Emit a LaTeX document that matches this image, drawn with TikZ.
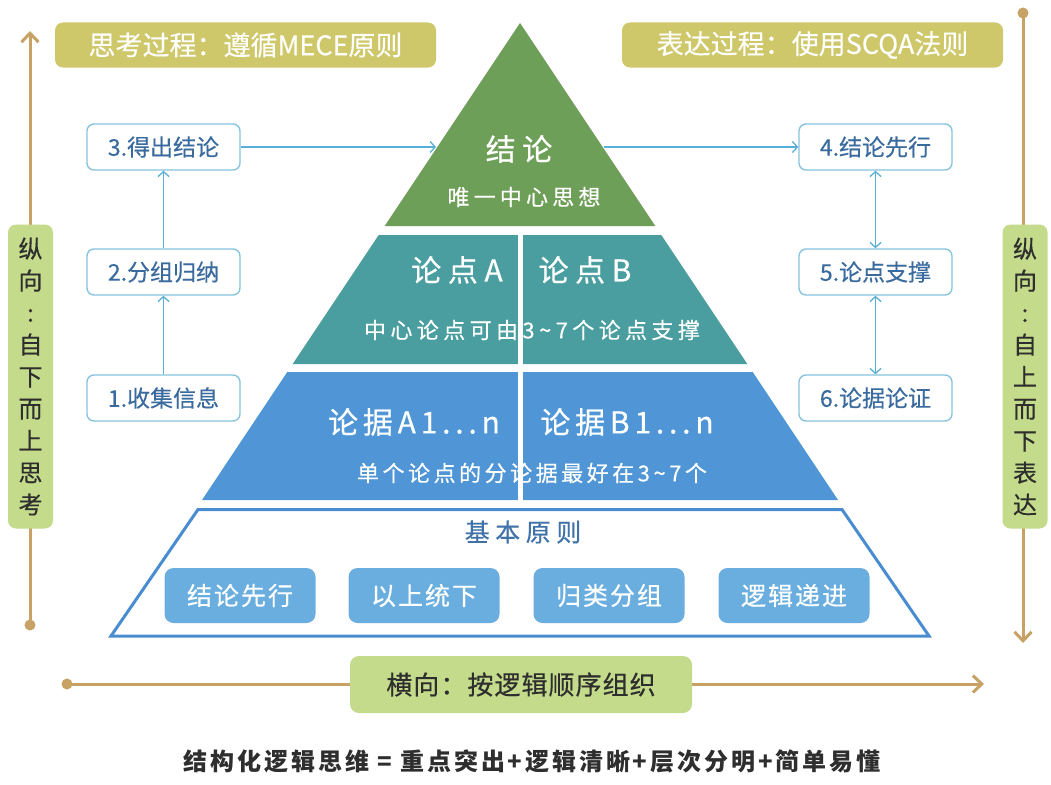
\documentclass[tikz,border=0pt]{standalone}
\usepackage{fontspec}
\setmainfont{Noto Sans CJK SC}
\usetikzlibrary{arrows.meta}
\definecolor{pgreen}{HTML}{6E9F58}
\definecolor{pteal}{HTML}{4A9EA0}
\definecolor{pblue}{HTML}{5096D6}
\definecolor{pbase}{HTML}{4A8CD0}
\definecolor{princ}{HTML}{6AAEE0}
\definecolor{olive}{HTML}{CEC86A}
\definecolor{sidegreen}{HTML}{C3DB8A}
\definecolor{tanc}{HTML}{C8A264}
\definecolor{flowborder}{HTML}{88C4DE}
\definecolor{flowarr}{HTML}{5AAFD6}
\definecolor{flowtext}{HTML}{3A6B9E}
\definecolor{basetext}{HTML}{3F72A8}
\definecolor{darktext}{HTML}{2E2E2E}
\newcommand\pxfont[2]{\fontsize{#1}{#2}\selectfont}
\newcommand\lsp[1]{\addfontfeature{LetterSpace=#1}}
\newcommand\fkb[1]{\addfontfeature{FakeBold=#1}}
\begin{document}
\begin{tikzpicture}[x=1pt,y=-1pt,
  flowbox/.style={draw=flowborder, line width=1.4pt, fill=white, rounded corners=7pt,
    minimum width=153pt, minimum height=46pt, inner sep=0pt, text=flowtext, font=\pxfont{23}{23}\fkb{0.3}},
  flowarrow/.style={draw=flowarr, line width=1.3pt, -{Straight Barb[length=5pt,width=11pt]}},
  flowdouble/.style={draw=flowarr, line width=1.3pt, {Straight Barb[length=5pt,width=11pt]}-{Straight Barb[length=5pt,width=11pt]}},
  headbox/.style={fill=olive, rounded corners=8pt, minimum width=381pt, minimum height=45pt,
    inner sep=0pt, text=white, font=\pxfont{27}{27}\fkb{0.3}},
  sidebox/.style={fill=sidegreen, rounded corners=8pt, minimum width=45pt, minimum height=304pt,
    inner sep=0pt, text=darktext, font=\pxfont{24}{32}\fkb{0.4}, align=center},
  principle/.style={fill=princ, rounded corners=9pt, minimum width=151pt, minimum height=55pt,
    inner sep=0pt, text=white, font=\pxfont{25}{25}\lsp{8}\fkb{0.4}},
  tanline/.style={draw=tanc, line width=3pt},
  tanarrow/.style={tanline, -{Straight Barb[length=9pt,width=17pt]}},
  pyrtext/.style={text=white, inner sep=0pt},
]
\useasboundingbox (0,0) rectangle (1051,784);
\fill[white] (0,0) rectangle (1051,784);

% ---------- axis lines ----------
\coordinate (ldot) at (30,625);
\coordinate (ltop) at (30,31);
\coordinate (rdot) at (1023,13);
\coordinate (rbot) at (1023,643);
\coordinate (hdot) at (67,684);
\coordinate (hend) at (984,684);
\draw[tanarrow] (ldot) -- (ltop);
\draw[tanarrow] (rdot) -- (rbot);
\draw[tanarrow] (hdot) -- (hend);
\fill[tanc] (ldot) circle (5.5pt);
\fill[tanc] (rdot) circle (5.5pt);
\fill[tanc] (hdot) circle (5.5pt);

% ---------- pyramid ----------
\fill[pgreen] (520,23) -- (655.3,226) -- (384.7,226) -- cycle;
\fill[pteal] (378.7,235) -- (661.3,235) -- (747.3,364) -- (292.7,364) -- cycle;
\fill[pblue] (287.3,372) -- (752.7,372) -- (838,500) -- (202,500) -- cycle;
\draw[pbase, line width=3pt, line join=miter] (198,509.5) -- (842,509.5) -- (929,636) -- (111,636) -- cycle;

\node[pyrtext, font=\pxfont{30}{30}\lsp{22}\fkb{0.5}] (concl) at (519,149) {结论};
\node[pyrtext, font=\pxfont{22}{22}\lsp{19}\fkb{0.4}] (central) at (524,197) {唯一中心思想};
\node[pyrtext, font=\pxfont{30}{30}\lsp{22}\fkb{0.5}] (ptA) at (457,270) {论点A};
\node[pyrtext, font=\pxfont{30}{30}\lsp{22}\fkb{0.5}] (ptB) at (585,270) {论点B};
\node[pyrtext, font=\pxfont{22}{22}\lsp{20}\fkb{0.4}] (ptnote) at (532,330) {中心论点可由3\textasciitilde7个论点支撑};
\node[pyrtext, font=\pxfont{30}{30}\lsp{16}\fkb{0.5}] (evA) at (414,422) {论据A1...n};
\node[pyrtext, font=\pxfont{30}{30}\lsp{16}\fkb{0.5}] (evB) at (627,422) {论据B1...n};
\node[pyrtext, font=\pxfont{22}{22}\lsp{16}\fkb{0.4}] (evnote) at (532,473) {单个论点的分论据最好在3\textasciitilde7个};
\draw[white, line width=5pt] (520,233) -- (520,502);

\node[text=basetext, inner sep=0pt, font=\pxfont{25}{25}\lsp{22}\fkb{0.4}] (basic) at (523,532) {基本原则};
\node[principle] (p1) at (240,595.5) {结论先行};
\node[principle] (p2) at (424,595.5) {以上统下};
\node[principle] (p3) at (609,595.5) {归类分组};
\node[principle] (p4) at (794,595.5) {逻辑递进};

% ---------- headers ----------
\node[headbox] (head1) at (245.5,45) {思考过程：遵循MECE原则};
\node[headbox] (head2) at (812.5,45) {表达过程：使用SCQA法则};

% ---------- flow boxes ----------
\node[flowbox] (f3) at (163.5,147) {3.得出结论};
\node[flowbox] (f2) at (163.5,272) {2.分组归纳};
\node[flowbox] (f1) at (163.5,398) {1.收集信息};
\node[flowbox] (f4) at (875.5,147) {4.结论先行};
\node[flowbox] (f5) at (875.5,272) {5.论点支撑};
\node[flowbox] (f6) at (875.5,398) {6.论据论证};
\coordinate (pl) at (436,147);
\coordinate (pr) at (604,147);
\draw[flowarrow] (f1) -- (f2);
\draw[flowarrow] (f2) -- (f3);
\draw[flowarrow] (f3) -- (pl);
\draw[flowarrow] (pr) -- (f4);
\draw[flowdouble] (f4) -- (f5);
\draw[flowdouble] (f5) -- (f6);

% ---------- side boxes ----------
\node[sidebox] (side1) at (30.5,376.5) {纵\\向\\:\\自\\下\\而\\上\\思\\考};
\node[sidebox] (side2) at (1025,376.5) {纵\\向\\:\\自\\上\\而\\下\\表\\达};
\node[fill=sidegreen, rounded corners=9pt, minimum width=342pt, minimum height=57pt, inner sep=0pt,
  text=darktext, font=\pxfont{26}{26}\lsp{4}\fkb{0.4}] (hbox) at (521,684.5) {横向：按逻辑顺序组织};

% ---------- bottom formula ----------
\node[text=darktext, inner sep=0pt, font=\pxfont{24}{24}\bfseries\lsp{12}] (formula) at (532,761)
  {结构化逻辑思维 = 重点突出+逻辑清晰+层次分明+简单易懂};
\end{tikzpicture}
\end{document}
